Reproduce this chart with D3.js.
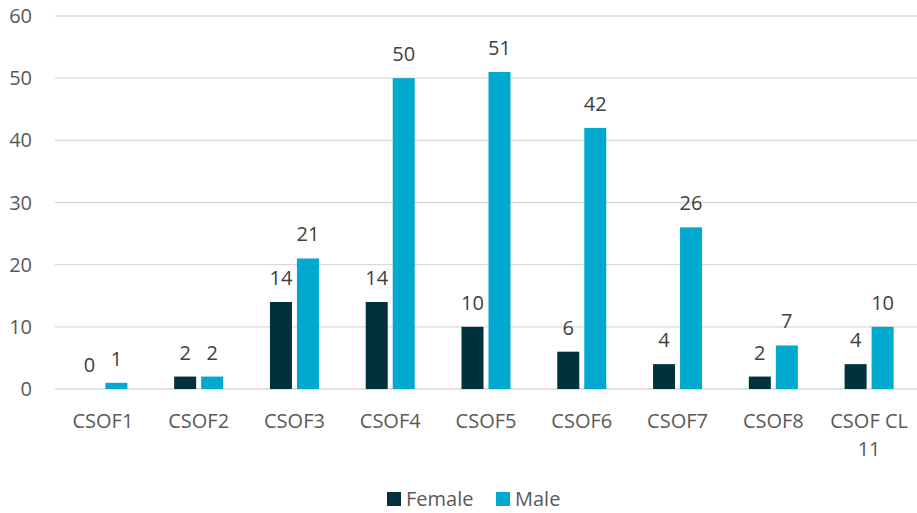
<!DOCTYPE html>
<html>
<head>
<meta charset="utf-8">
<script src="https://cdn.jsdelivr.net/npm/d3@7.9.0/dist/d3.min.js"></script>
<style>
  body { margin: 0; background: #fff; }
  svg { font-family: "Open Sans", "Liberation Sans", sans-serif; }
</style>
</head>
<body>
<svg id="chart" width="917" height="513"></svg>
<script>
// Chart data
const categories = ['CSOF1', 'CSOF2', 'CSOF3', 'CSOF4', 'CSOF5', 'CSOF6', 'CSOF7', 'CSOF8', 'CSOF CL 11'];
const female = [0, 2, 14, 14, 10, 6, 4, 2, 4];
const male = [1, 2, 21, 50, 51, 42, 26, 7, 10];
const yTicks = [0, 10, 20, 30, 40, 50, 60];
const seriesNames = ['Female', 'Male'];
const colors = ['#00313C', '#00A9CE'];

const svg = d3.select('#chart');
const margin = { top: 16, right: 0, bottom: 124, left: 55 };
const width = 917 - margin.left - margin.right;
const height = 513 - margin.top - margin.bottom;
const fs = 20;

const g = svg.append('g').attr('transform', `translate(${margin.left},${margin.top})`);

const x = d3.scaleBand().domain(categories).range([0, width]);
const y = d3.scaleLinear().domain([0, 60]).range([height, 0]);

// Gridlines
g.selectAll('.grid')
  .data(yTicks)
  .enter()
  .append('line')
  .attr('x1', 0)
  .attr('x2', width)
  .attr('y1', d => y(d))
  .attr('y2', d => y(d))
  .attr('stroke', '#d9d9d9')
  .attr('stroke-width', 1.3);

// Y axis labels
g.selectAll('.ylab')
  .data(yTicks)
  .enter()
  .append('text')
  .attr('x', -23)
  .attr('y', d => y(d))
  .attr('dy', '0.35em')
  .attr('text-anchor', 'end')
  .attr('fill', '#595959')
  .attr('font-size', fs)
  .text(d => d);

// Bars
const barW = 22;
const gap = 5;
const rows = categories.map((c, i) => ({ cat: c, values: [female[i], male[i]] }));

const groups = g.selectAll('.cat')
  .data(rows)
  .enter()
  .append('g')
  .attr('transform', d => `translate(${x(d.cat) + x.bandwidth() / 2},0)`);

groups.selectAll('rect')
  .data(d => d.values.map((v, k) => ({ v, k })))
  .enter()
  .append('rect')
  .attr('x', d => d.k === 0 ? -barW - gap / 2 : gap / 2)
  .attr('y', d => y(d.v))
  .attr('width', barW)
  .attr('height', d => height - y(d.v))
  .attr('fill', d => colors[d.k]);

// Value labels
groups.selectAll('.val')
  .data(d => d.values.map((v, k) => ({ v, k })))
  .enter()
  .append('text')
  .attr('x', d => (d.k === 0 ? -barW - gap / 2 : gap / 2) + barW / 2)
  .attr('y', d => y(d.v) - 17)
  .attr('text-anchor', 'middle')
  .attr('fill', '#404040')
  .attr('font-size', fs)
  .text(d => d.v);

// X axis labels (wrap long ones)
groups.each(function(d) {
  const words = d.cat.split(' ');
  const lines = words.length > 2 ? [words.slice(0, 2).join(' '), words.slice(2).join(' ')] : [d.cat];
  const t = d3.select(this).append('text')
    .attr('text-anchor', 'middle')
    .attr('fill', '#595959')
    .attr('font-size', fs);
  lines.forEach((ln, i) => {
    t.append('tspan').attr('x', 0).attr('y', height + 39 + i * 28).text(ln);
  });
});

// Legend
const legend = svg.append('g').attr('transform', 'translate(387,499)');
const legendX = [0, 109];
seriesNames.forEach((name, i) => {
  legend.append('rect')
    .attr('x', legendX[i])
    .attr('y', -7)
    .attr('width', 14)
    .attr('height', 14)
    .attr('fill', colors[i]);
  legend.append('text')
    .attr('x', legendX[i] + 19)
    .attr('y', 7)
    .attr('fill', '#595959')
    .attr('font-size', fs)
    .text(name);
});
</script>
</body>
</html>
